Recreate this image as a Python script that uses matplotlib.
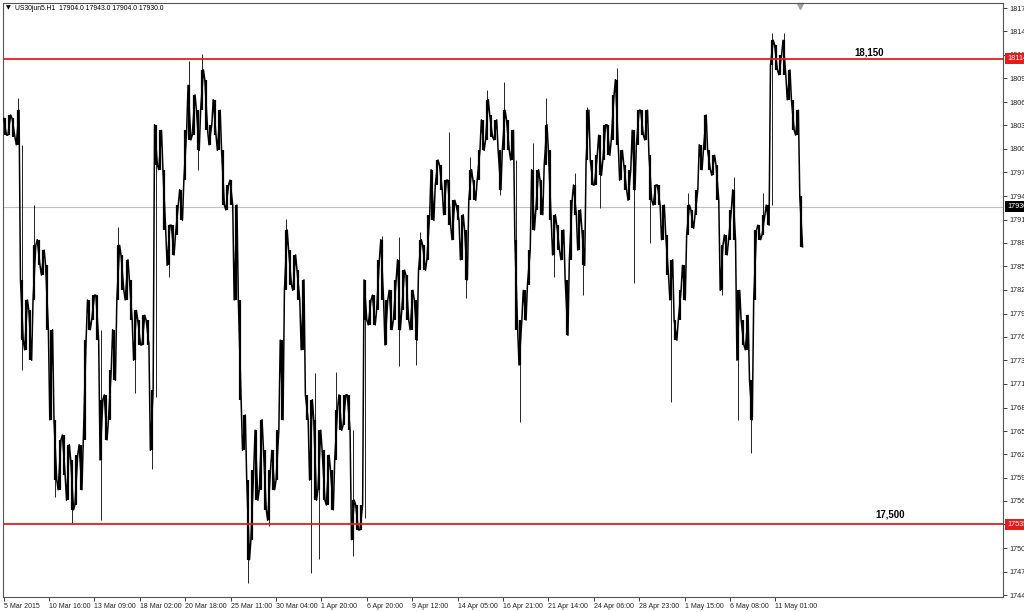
import numpy as np
import matplotlib.pyplot as plt
from matplotlib.transforms import blended_transform_factory

plt.rcParams['font.family'] = ['Liberation Sans', 'DejaVu Sans']

# 6-hour aggregated bars (dense range of each block)
hi = [18040, 18044, 18040, 18050, 17839, 17814, 17801, 17882, 17889, 17876,
      17857, 17777, 17665, 17640, 17646, 17634, 17615, 17621, 17634, 17764,
      17814, 17820, 17820, 17690, 17696, 17727, 17777, 17882, 17870, 17864,
      17839, 17801, 17789, 17795, 17789, 17702, 18032, 18025, 17976, 17907,
      17907, 17932, 17951, 18025, 18081, 18069, 18050, 18100, 18088, 18032,
      18063, 18050, 18000, 17957, 17963, 17932, 17814, 17671, 17590, 17602,
      17652, 17665, 17627, 17602, 17627, 17652, 17764, 17901, 17876, 17870,
      17851, 17839, 17696, 17690, 17665, 17652, 17627, 17621, 17602, 17677,
      17696, 17696, 17696, 17565, 17559, 17559, 17839, 17814, 17820, 17864,
      17889, 17814, 17826, 17839, 17864, 17851, 17845, 17826, 17814, 17889,
      17882, 17920, 17976, 17988, 17982, 17963, 17963, 17938, 17932, 17920,
      17901, 17976, 17963, 18000, 18038, 18063, 18044, 18038, 18000, 18050,
      18038, 18025, 17889, 17789, 17826, 17876, 17976, 17976, 17963, 18032,
      18000, 17920, 17907, 17901, 17839, 17938, 17957, 17926, 17901, 18050,
      17988, 17994, 18019, 18032, 18032, 18069, 18088, 18000, 17982, 17976,
      18025, 18050, 18050, 18050, 17994, 17957, 17957, 17932, 17895, 17864,
      17789, 17826, 17857, 17932, 17926, 17951, 18007, 18044, 18000, 17994,
      17982, 17882, 17895, 17926, 17951, 17826, 17789, 17795, 17714, 17901,
      17907, 17920, 17932, 18137, 18131, 18119, 18137, 18100, 18063, 18050,
      17943]
lo = [18019, 18019, 18017, 18007, 17764, 17752, 17739, 17814, 17857, 17845,
      17777, 17665, 17590, 17578, 17596, 17565, 17553, 17559, 17578, 17640,
      17777, 17789, 17764, 17615, 17640, 17665, 17714, 17814, 17826, 17814,
      17789, 17739, 17758, 17758, 17758, 17627, 17982, 17976, 17901, 17857,
      17870, 17895, 17913, 17963, 18013, 18019, 18000, 18050, 18025, 18007,
      18019, 18000, 17932, 17926, 17932, 17814, 17690, 17627, 17491, 17516,
      17565, 17578, 17553, 17540, 17578, 17590, 17665, 17826, 17833, 17826,
      17814, 17752, 17665, 17590, 17565, 17578, 17565, 17559, 17553, 17615,
      17652, 17658, 17652, 17516, 17528, 17528, 17789, 17783, 17783, 17801,
      17814, 17758, 17777, 17789, 17777, 17801, 17789, 17777, 17764, 17851,
      17851, 17864, 17913, 17957, 17951, 17920, 17907, 17889, 17913, 17864,
      17839, 17938, 17938, 17963, 18000, 18013, 18017, 18013, 17951, 18000,
      18000, 17988, 17777, 17733, 17789, 17833, 17901, 17926, 17920, 17982,
      17913, 17870, 17876, 17864, 17770, 17864, 17920, 17876, 17857, 17988,
      17957, 17957, 17969, 17988, 17994, 18013, 18007, 17963, 17951, 17938,
      17951, 18007, 18019, 18013, 17938, 17932, 17932, 17889, 17845, 17814,
      17764, 17789, 17814, 17895, 17903, 17920, 17976, 18000, 17976, 17969,
      17938, 17826, 17870, 17889, 17889, 17739, 17758, 17752, 17665, 17814,
      17889, 17895, 17907, 18106, 18100, 18094, 18094, 18063, 18025, 18019,
      17880]

# single-hour spikes sticking out of the bars
wick_bar = [3, 4, 4, 7, 12, 16, 23, 23, 27, 31, 35, 36, 39, 44, 46, 47, 58, 63,
            67, 73, 74, 75, 79, 83, 83, 86, 90, 94, 94, 98, 99, 106, 110, 111,
            115, 118, 119, 122, 123, 126, 129, 131, 136, 138, 139, 142, 146,
            150, 154, 159, 163, 171, 174, 175, 178, 181, 183, 183, 186]
wick_to = [18065, 18007, 17727, 17932, 17569, 17537, 17540, 17777, 17905, 17698,
           17604, 17693, 17843, 18111, 17976, 18120, 17462, 17533, 17915, 17474,
           17723, 17492, 17724, 17496, 17652, 17543, 17894, 17892, 17732, 17733,
           17898, 18023, 17816, 17992, 18075, 17944, 18085, 17988, 17662, 18009,
           18065, 17843, 17972, 17820, 18054, 17928, 18102, 17835, 17885, 17687,
           17947, 17820, 17967, 17665, 17624, 17947, 17932, 18146, 18146]

date_labels = ['5 Mar 2015', '10 Mar 16:00', '13 Mar 09:00', '18 Mar 02:00',
               '20 Mar 18:00', '25 Mar 11:00', '30 Mar 04:00', '1 Apr 20:00',
               '6 Apr 20:00', '9 Apr 12:00', '14 Apr 05:00', '16 Apr 21:00',
               '21 Apr 14:00', '24 Apr 06:00', '28 Apr 23:00', '1 May 15:00',
               '6 May 08:00', '11 May 01:00']
price_ticks = [18177, 18148, 18119, 18090, 18060, 18031, 18002, 17973, 17943,
               17914, 17885, 17856, 17827, 17797, 17768, 17739, 17710, 17680,
               17651, 17622, 17593, 17564, 17535, 17505, 17476, 17447]
res_level = 18114
sup_level = 17535
last_price = 17930
header = 'US30jun5.H1  17904.0 17943.0 17904.0 17930.0'

bar_hours = 6
x = np.arange(len(hi)) * bar_hours + 3
hours_per_label = 65

fig = plt.figure(figsize=(10.24, 6.12), dpi=100)
ax = fig.add_axes([3 / 1024, 15 / 612, 1000 / 1024, 594 / 612])
ax.set_xlim(0, 1432)
ax.set_ylim(17444.6, 18183.3)

# each block: a high-low bar plus a zig-zag through its range, which gives
# the ragged look of many hourly bars drawn side by side
ax.vlines(x, lo, hi, color='black', lw=1.6, zorder=3)
zx, zy = [], []
for i in range(len(hi)):
    a, b = (hi[i], lo[i]) if i % 2 == 0 else (lo[i], hi[i])
    zx += [x[i] - 2, x[i] + 2]
    zy += [a, b]
ax.plot(zx, zy, color='black', lw=1.1, zorder=3)
wx = x[wick_bar]
mid = [(hi[b] + lo[b]) / 2 for b in wick_bar]
ax.vlines(wx, wick_to, mid, color='#222222', lw=0.7, zorder=2)

ax.axhline(res_level, color='#e51c1c', lw=1.3, zorder=4)
ax.axhline(sup_level, color='#e51c1c', lw=1.3, zorder=4)
ax.axhline(last_price, color='#c0c0c0', lw=0.8, zorder=1)

ax.text(1241, 18122, '18,150', ha='center', va='center', fontsize=7,
        fontweight='bold', zorder=5)
ax.text(1270, 17547, '17,500', ha='center', va='center', fontsize=7,
        fontweight='bold', zorder=5)

# price axis on the right, MT4 style
ax.yaxis.tick_right()
ax.set_yticks(price_ticks)
ax.set_yticklabels([str(p) for p in price_ticks])
ax.tick_params(axis='y', length=3, width=0.6, pad=1.5, labelsize=5.2,
               colors='#222222')
tr = blended_transform_factory(ax.transAxes, ax.transData)
for lvl, fc in [(res_level, '#e51c1c'), (sup_level, '#e51c1c'), (last_price, 'black')]:
    ax.text(1.004, lvl, str(lvl), transform=tr, ha='left', va='center',
            fontsize=5.2, color='white', clip_on=False, zorder=10,
            bbox=dict(boxstyle='square,pad=0.25', fc=fc, ec='none'))

xt = [1 + hours_per_label * k for k in range(len(date_labels))]
ax.set_xticks(xt)
ax.set_xticklabels(date_labels, ha='left')
ax.tick_params(axis='x', length=3, width=0.6, pad=1.5, labelsize=5.0,
               colors='#222222')

for s in ax.spines.values():
    s.set_color('#555555')
    s.set_linewidth(0.8)

fig.text(6 / 1024, 1 - 8 / 612, '\u25bc', fontsize=4.5, va='center',
         family=['DejaVu Sans'])
fig.text(15 / 1024, 1 - 8 / 612, header, fontsize=4.9, va='center')
ax.plot([1142], [18180], marker='v', color='#a0a0a0', ms=4, clip_on=False)

fig.savefig('out.png', dpi=100, facecolor='white')
